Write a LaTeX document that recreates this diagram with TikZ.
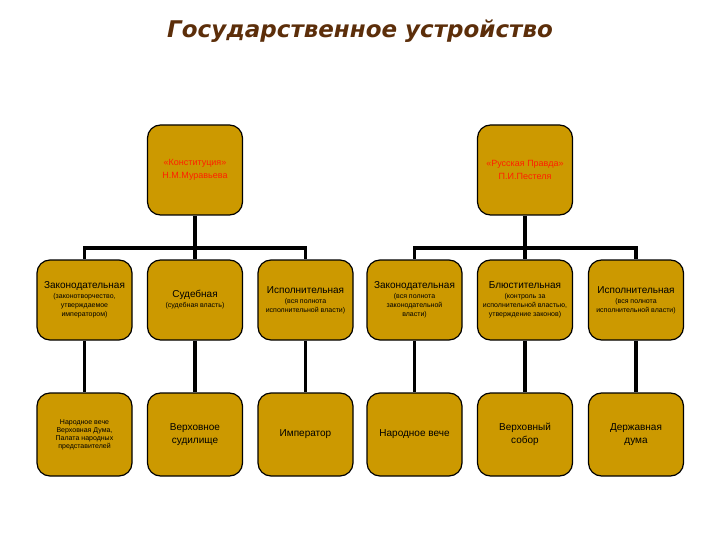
\documentclass[tikz,border=0pt]{standalone}
\usepackage{fontspec}
\setmainfont{Liberation Sans}
\newfontfamily\titlefont{DejaVu Sans}
\definecolor{gold}{HTML}{CC9900}
\definecolor{titlebrown}{HTML}{5C2E0A}
\definecolor{redtxt}{HTML}{FF2000}
\newcommand\subtxt{\fontsize{7}{9}\selectfont}

\begin{document}
\begin{tikzpicture}[x=1pt,y=-1pt,font=\fontsize{10}{12}\selectfont,
  box/.style={draw=black,line width=1.2pt,fill=gold,rounded corners=13pt,minimum width=95pt,align=center,inner sep=2pt},
  topbox/.style={box,minimum height=90pt,text=redtxt,font=\fontsize{9}{13}\selectfont},
  midbox/.style={box,minimum height=80pt,font=\fontsize{10}{9}\selectfont},
  lowbox/.style={box,minimum height=83pt,font=\fontsize{10}{13}\selectfont},
  link/.style={line width=3.5pt}]
\useasboundingbox (0,0) rectangle (720,540);
\node[font=\titlefont\bfseries\itshape\fontsize{23}{27}\selectfont,text=titlebrown] (title) at (360,31) {Государственное устройство};
% projects
\node[topbox] (konst) at (195,170) {«Конституция»\\Н.М.Муравьева};
\node[topbox] (pravda) at (525,170) {«Русская Правда»\\П.И.Пестеля};
% branches
\node[midbox] (zak1) at (84.5,300) {Законодательная\\[1pt]\subtxt(законотворчество,\\\subtxt утверждаемое\\\subtxt императором)};
\node[midbox] (sud1) at (195,300) {Судебная\\[1pt]\subtxt(судебная власть)};
\node[midbox] (isp1) at (305.5,300) {Исполнительная\\[1pt]\subtxt(вся полнота\\\subtxt исполнительной власти)};
\node[midbox] (zak2) at (414.5,300) {Законодательная\\[1pt]\subtxt(вся полнота\\\subtxt законодательной\\\subtxt власти)};
\node[midbox] (blu2) at (525,300) {Блюстительная\\[1pt]\subtxt(контроль за\\\subtxt исполнительной властью,\\\subtxt утверждение законов)};
\node[midbox] (isp2) at (636,300) {Исполнительная\\[1pt]\subtxt(вся полнота\\\subtxt исполнительной власти)};
% organs
\node[lowbox,font=\fontsize{7}{8}\selectfont] (veche1) at (84.5,434.5) {Народное вече\\Верховная Дума,\\Палата народных\\представителей};
\node[lowbox] (sudil1) at (195,434.5) {Верховное\\судилище};
\node[lowbox] (imp1) at (305.5,434.5) {Император};
\node[lowbox] (veche2) at (414.5,434.5) {Народное вече};
\node[lowbox] (sobor2) at (525,434.5) {Верховный\\собор};
\node[lowbox] (duma2) at (636,434.5) {Державная\\дума};
% connectors
\coordinate (kbar) at (195,248);
\coordinate (pbar) at (525,248);
\draw[link] (konst.south) -- (kbar);
\draw[link] (pravda.south) -- (pbar);
\foreach \n in {zak1,sud1,isp1}{\draw[link] (kbar) -| (\n.north);}
\foreach \n in {zak2,blu2,isp2}{\draw[link] (pbar) -| (\n.north);}
\foreach \a/\b in {zak1/veche1,sud1/sudil1,isp1/imp1,zak2/veche2,blu2/sobor2,isp2/duma2}{\draw[link] (\a) -- (\b);}
\end{tikzpicture}
\end{document}
